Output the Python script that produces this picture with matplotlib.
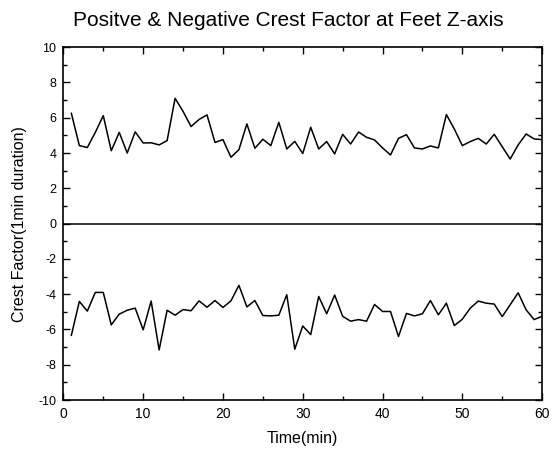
import matplotlib
matplotlib.use("Agg")
import matplotlib.pyplot as plt
from matplotlib.ticker import MultipleLocator

plt.rcParams['font.family'] = ['Liberation Sans', 'DejaVu Sans']
plt.rcParams['axes.unicode_minus'] = False

# time in minutes
minutes = list(range(1, 61))

positive = [6.25, 4.42, 4.31, 5.17, 6.12, 4.13, 5.17, 4.00, 5.20, 4.57,
            4.58, 4.46, 4.70, 7.10, 6.36, 5.50, 5.90, 6.16, 4.60, 4.76,
            3.76, 4.19, 5.65, 4.27, 4.78, 4.42, 5.74, 4.23, 4.66, 3.97,
            5.46, 4.23, 4.65, 3.95, 5.06, 4.51, 5.19, 4.89, 4.74, 4.29,
            3.89, 4.83, 5.04, 4.29, 4.23, 4.40, 4.29, 6.18, 5.36, 4.42,
            4.65, 4.83, 4.51, 5.06, 4.36, 3.66, 4.46, 5.08, 4.80, 4.76]

negative = [-6.33, -4.41, -4.96, -3.90, -3.90, -5.74, -5.13, -4.91, -4.79, -6.02,
            -4.39, -7.16, -4.91, -5.19, -4.87, -4.94, -4.38, -4.74, -4.36, -4.75,
            -4.38, -3.50, -4.72, -4.36, -5.21, -5.23, -5.19, -4.03, -7.12, -5.80,
            -6.29, -4.13, -5.11, -4.05, -5.25, -5.53, -5.44, -5.53, -4.58, -4.98,
            -4.98, -6.40, -5.09, -5.23, -5.11, -4.36, -5.17, -4.51, -5.78, -5.42,
            -4.79, -4.39, -4.51, -4.56, -5.27, -4.60, -3.92, -4.89, -5.44, -5.25]

fig = plt.figure(figsize=(5.56, 4.49), dpi=100)
ax = fig.add_axes([0.114, 0.109, 0.861, 0.786])

ax.plot(minutes, positive, color='black', lw=1.1)
ax.plot(minutes, negative, color='black', lw=1.1)
ax.axhline(0, color='black', lw=1.1)

ax.set_xlim(0, 60)
ax.set_ylim(-10, 10)
ax.xaxis.set_major_locator(MultipleLocator(10))
ax.xaxis.set_minor_locator(MultipleLocator(5))
ax.yaxis.set_major_locator(MultipleLocator(2))
ax.yaxis.set_minor_locator(MultipleLocator(1))
ax.tick_params(which='both', direction='in', top=True, right=True, width=1)
ax.tick_params(which='major', length=5)
ax.tick_params(which='minor', length=3)
ax.tick_params(axis='x', labelsize=10, pad=5)
ax.tick_params(axis='y', labelsize=9, pad=5)
for s in ax.spines.values():
    s.set_linewidth(1.2)

ax.set_xlabel("Time(min)", fontsize=11.5, labelpad=7)
ax.set_ylabel("Crest Factor(1min duration)", fontsize=11.5, labelpad=8)
fig.text(0.518, 0.955, "Positve & Negative Crest Factor at Feet Z-axis",
         fontsize=15, ha='center', va='center')

fig.savefig("out.png", dpi=100)
